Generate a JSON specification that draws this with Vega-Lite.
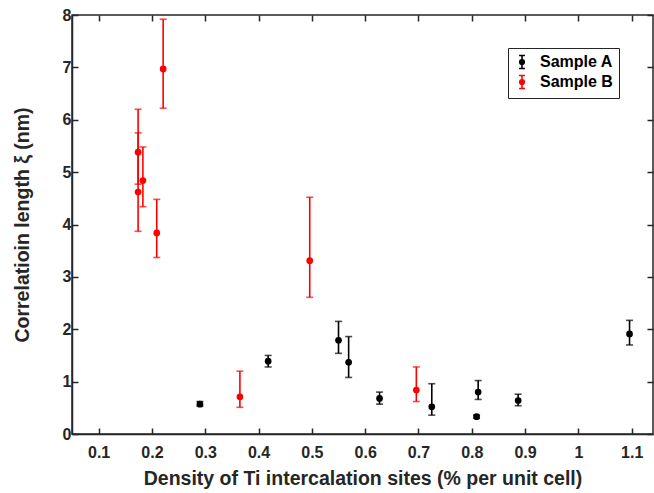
{
  "$schema": "https://vega.github.io/schema/vega-lite/v6.json",
  "autosize": "none",
  "width": 581,
  "height": 419,
  "padding": {"left": 72, "top": 15, "right": 1, "bottom": 59},
  "background": "white",
  "config": {
    "font": "Liberation Sans",
    "view": {"stroke": "#262626", "strokeWidth": 1.5},
    "axis": {
      "grid": false,
      "domainColor": "#262626",
      "domainWidth": 1.5,
      "tickColor": "#262626",
      "tickWidth": 1.5,
      "tickSize": -6,
      "labelFont": "Liberation Sans",
      "labelFontWeight": "bold",
      "labelFontSize": 16,
      "labelColor": "#262626",
      "titleFont": "Liberation Sans",
      "titleFontWeight": "bold",
      "titleFontSize": 19.5,
      "titleColor": "#262626"
    }
  },
  "data": {
    "values": [
      {"sample": "Sample A", "x": 0.290, "y": 0.57, "lo": 0.53, "hi": 0.62},
      {"sample": "Sample A", "x": 0.418, "y": 1.39, "lo": 1.28, "hi": 1.50},
      {"sample": "Sample A", "x": 0.550, "y": 1.79, "lo": 1.54, "hi": 2.15},
      {"sample": "Sample A", "x": 0.569, "y": 1.37, "lo": 1.08, "hi": 1.86},
      {"sample": "Sample A", "x": 0.627, "y": 0.68, "lo": 0.57, "hi": 0.80},
      {"sample": "Sample A", "x": 0.725, "y": 0.52, "lo": 0.36, "hi": 0.96},
      {"sample": "Sample A", "x": 0.809, "y": 0.33, "lo": 0.30, "hi": 0.36},
      {"sample": "Sample A", "x": 0.812, "y": 0.80, "lo": 0.66, "hi": 1.02},
      {"sample": "Sample A", "x": 0.887, "y": 0.64, "lo": 0.54, "hi": 0.76},
      {"sample": "Sample A", "x": 1.096, "y": 1.91, "lo": 1.70, "hi": 2.17},
      {"sample": "Sample B", "x": 0.174, "y": 5.38, "lo": 4.77, "hi": 6.20},
      {"sample": "Sample B", "x": 0.174, "y": 4.62, "lo": 3.87, "hi": 5.75},
      {"sample": "Sample B", "x": 0.183, "y": 4.84, "lo": 4.34, "hi": 5.48},
      {"sample": "Sample B", "x": 0.209, "y": 3.84, "lo": 3.37, "hi": 4.48},
      {"sample": "Sample B", "x": 0.221, "y": 6.97, "lo": 6.22, "hi": 7.92},
      {"sample": "Sample B", "x": 0.365, "y": 0.71, "lo": 0.51, "hi": 1.20},
      {"sample": "Sample B", "x": 0.496, "y": 3.31, "lo": 2.61, "hi": 4.52},
      {"sample": "Sample B", "x": 0.696, "y": 0.84, "lo": 0.62, "hi": 1.28}
    ]
  },
  "resolve": {"axis": {"x": "independent", "y": "independent"}},
  "layer": [
    {
      "mark": {"type": "rule", "strokeWidth": 1.6},
      "encoding": {
        "x": {"field": "x", "type": "quantitative",
              "scale": {"domain": [0.05, 1.14], "nice": false, "zero": false},
              "axis": {"orient": "bottom", "values": [0.1,0.2,0.3,0.4,0.5,0.6,0.7,0.8,0.9,1,1.1], "format": "~g",
                       "labelPadding": 16, "title": "Density of Ti intercalation sites (% per unit cell)", "titlePadding": 9}},
        "y": {"field": "lo", "type": "quantitative",
              "scale": {"domain": [0, 8], "nice": false},
              "axis": {"orient": "left", "values": [0,1,2,3,4,5,6,7,8], "labelPadding": 7,
                       "title": "Correlatioin length ξ (nm)", "titlePadding": 30}},
        "y2": {"field": "hi"},
        "color": {"field": "sample", "type": "nominal",
                  "scale": {"domain": ["Sample A", "Sample B"], "range": ["#000000", "#ff0000"]},
                  "legend": {
                    "title": null,
                    "orient": "none",
                    "legendX": 436,
                    "legendY": 33,
                    "direction": "vertical",
                    "symbolType": "M-0.45,-1H0.45M0,-1V1M-0.45,1H0.45M0.35,0A0.35,0.35 0 1,1 -0.35,0A0.35,0.35 0 1,1 0.35,0Z",
                    "symbolSize": 170,
                    "symbolStrokeWidth": 1.6,
                    "symbolOpacity": 1,
                    "labelFont": "Liberation Sans",
                    "labelFontWeight": "bold",
                    "labelFontSize": 16,
                    "labelColor": "#000000",
                    "labelOffset": 10,
                    "rowPadding": 0,
                    "padding": 6,
                    "strokeColor": "#262626",
                    "fillColor": "white",
                    "encode": {"symbols": {"update": {
                      "stroke": {"scale": "color", "field": "value"},
                      "fill": {"scale": "color", "field": "value"},
                      "strokeWidth": {"value": 1.6},
                      "opacity": {"value": 1}}}}
                  }}
      }
    },
    {
      "mark": {"type": "tick", "orient": "horizontal", "size": 7, "thickness": 1.6},
      "encoding": {
        "x": {"field": "x", "type": "quantitative", "axis": null},
        "y": {"field": "lo", "type": "quantitative", "axis": null},
        "color": {"field": "sample", "type": "nominal"}
      }
    },
    {
      "mark": {"type": "tick", "orient": "horizontal", "size": 7, "thickness": 1.6},
      "encoding": {
        "x": {"field": "x", "type": "quantitative", "axis": null},
        "y": {"field": "hi", "type": "quantitative", "axis": null},
        "color": {"field": "sample", "type": "nominal"}
      }
    },
    {
      "mark": {"type": "point", "shape": "circle", "filled": true, "opacity": 1, "size": 45},
      "encoding": {
        "x": {"field": "x", "type": "quantitative",
              "axis": {"orient": "top", "values": [0.1,0.2,0.3,0.4,0.5,0.6,0.7,0.8,0.9,1,1.1], "labels": false, "title": null, "domain": false}},
        "y": {"field": "y", "type": "quantitative",
              "axis": {"orient": "right", "values": [0,1,2,3,4,5,6,7,8], "labels": false, "title": null, "domain": false}},
        "color": {"field": "sample", "type": "nominal"}
      }
    }
  ]
}
